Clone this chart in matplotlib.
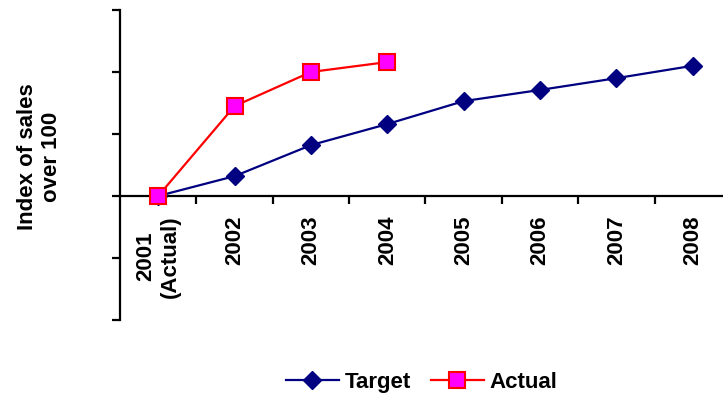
import numpy as np
import matplotlib.pyplot as plt
from matplotlib.ticker import FixedLocator, MultipleLocator, NullFormatter

plt.rcParams['font.family'] = ['Liberation Sans', 'DejaVu Sans']

years = ['2001\n(Actual)', '2002', '2003', '2004', '2005', '2006', '2007', '2008']
target = [0, 3.2, 8.2, 11.6, 15.3, 17.1, 19.0, 21.0]
actual = [0, 14.5, 20.0, 21.6]

fig = plt.figure(figsize=(7.23, 3.99), dpi=100)
ax = fig.add_axes([0.166, 0.198, 0.845, 0.777])

x = np.arange(len(years))
ax.plot(x, target, color='#000080', lw=1.6, marker='D', markersize=9,
        markerfacecolor='#000080', markeredgecolor='#000080', label='Target', zorder=3)
ax.plot(x[:len(actual)], actual, color='#FF0000', lw=1.6, marker='s', markersize=11.5,
        markerfacecolor='#FF00FF', markeredgecolor='#FF0000', markeredgewidth=1.5,
        label='Actual', zorder=4)

ax.set_xlim(-0.5, len(years) - 0.5)
ax.set_ylim(-20, 30)
ax.yaxis.set_major_locator(MultipleLocator(10))
ax.yaxis.set_major_formatter(NullFormatter())
ax.tick_params(axis='y', direction='out', length=6, width=1.6)

ax.spines['top'].set_visible(False)
ax.spines['right'].set_visible(False)
ax.spines['bottom'].set_position(('data', 0))
ax.spines['left'].set_linewidth(1.6)
ax.spines['bottom'].set_linewidth(1.6)

ax.set_xticks(x)
ax.set_xticklabels(years, rotation=90, fontsize=16, fontweight='bold', va='top', ha='center',
                   multialignment='center')
ax.tick_params(axis='x', which='major', length=0, pad=14)
ax.xaxis.set_minor_locator(FixedLocator(x[:-1] + 0.5))
ax.tick_params(axis='x', which='minor', direction='out', length=6, width=1.6)

ax.set_ylabel('Index of sales\nover 100', fontsize=16, fontweight='bold')
ax.yaxis.set_label_coords(-0.095, 0.526)

fig.legend(loc='center', bbox_to_anchor=(0.583, 0.042), ncol=2, frameon=False,
           prop={'size': 16, 'weight': 'bold'}, handlelength=2.4, columnspacing=0.9,
           handletextpad=0.25)

fig.savefig('out.png', dpi=100)
